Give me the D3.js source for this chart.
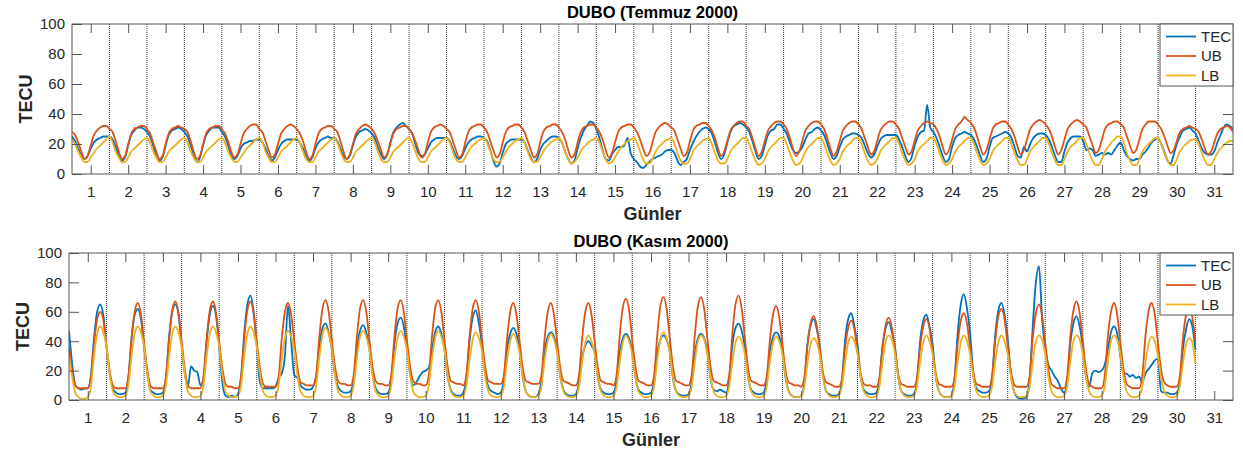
<!DOCTYPE html>
<html lang="tr">
<head>
<meta charset="utf-8">
<title>DUBO TEC</title>
<script src="https://cdn.jsdelivr.net/npm/d3@7"></script>
<style>
  body { margin: 0; background: #fff; }
  svg { font-family: "Liberation Sans", Arial, sans-serif; }
</style>
</head>
<body>
<svg id="chart" width="1243" height="456"></svg>
<script>
// values every 2 hours (00,02,...,22 UT), one row per day
var julTEC = [
  [25,22,17,12,10,12,17,21,23,24,25,25],
  [25,23,18,12,9,11,19,26,29,31,31,30],
  [28,25,19,13,9,11,19,26,29,30,31,30],
  [28,25,19,13,8,11,19,26,29,31,31,31],
  [28,25,19,13,10,12,17,20,21,22,22,23],
  [23,21,17,12,9,11,16,20,22,23,23,23],
  [23,21,17,12,9,11,17,21,23,24,25,24],
  [24,22,17,12,10,12,19,25,28,29,30,29],
  [27,24,18,13,10,13,21,28,31,33,34,32],
  [30,27,20,14,12,13,17,21,23,24,24,24],
  [24,22,17,12,10,12,17,21,23,24,25,25],
  [24,22,16,9,5,7,14,20,22,23,23,23],
  [23,21,16,11,8,10,16,20,22,24,25,25],
  [24,21,15,10,7,9,17,24,29,32,35,34],
  [30,24,16,10,9,13,16,18,18,19,24,14],
  [10,8,5,4,6,8,10,11,12,13,15,16],
  [16,14,9,6,8,10,16,21,25,28,30,31],
  [30,27,21,14,10,13,21,28,32,33,34,33],
  [31,28,22,15,10,12,19,26,29,30,33,33],
  [30,27,21,16,14,15,18,23,27,28,30,31],
  [29,26,20,14,10,12,18,23,25,26,27,27],
  [26,24,19,14,11,13,18,23,25,26,26,26],
  [26,23,18,12,8,11,19,25,28,29,46,31],
  [28,24,18,12,8,10,18,24,26,27,28,27],
  [26,23,18,12,8,10,18,24,25,26,27,28],
  [27,24,18,12,11,18,15,20,24,26,27,27],
  [26,23,18,12,8,8,15,21,24,25,25,25],
  [22,16,17,16,12,13,14,13,14,13,16,19],
  [21,16,12,10,9,10,10,13,15,18,21,23],
  [24,20,15,9,7,13,20,25,29,30,31,29],
  [27,22,17,14,13,13,15,21,26,31,33,32,30]
];
var julUB = [
  [28,26,21,15,10,12,19,26,29,31,32,32],
  [30,28,22,15,10,12,20,27,30,31,32,32],
  [30,27,21,15,10,12,20,27,30,31,32,31],
  [30,28,22,15,10,12,20,27,30,31,32,32],
  [30,27,22,15,11,13,20,27,30,32,33,33],
  [30,28,22,16,11,13,20,27,30,32,33,32],
  [30,27,22,15,10,12,20,27,30,31,32,32],
  [30,28,22,15,10,13,20,27,30,32,33,32],
  [30,27,22,16,11,13,20,27,30,31,32,32],
  [30,27,22,16,11,13,21,28,31,32,33,32],
  [30,28,22,16,11,13,21,28,31,32,33,33],
  [31,28,22,16,11,13,21,28,31,32,33,33],
  [31,28,22,16,11,13,21,28,31,32,33,33],
  [31,28,23,16,11,13,21,28,31,32,33,33],
  [31,28,23,16,11,14,21,28,31,32,33,33],
  [31,28,23,17,12,14,21,28,31,33,34,33],
  [31,29,23,17,12,14,22,29,32,33,34,34],
  [32,29,24,17,12,15,22,29,32,34,35,35],
  [32,30,24,17,12,15,22,29,32,34,35,35],
  [33,30,24,17,12,15,22,29,32,34,35,35],
  [33,30,24,17,12,15,22,29,32,34,35,35],
  [33,30,24,18,13,15,22,29,32,34,35,35],
  [33,30,24,18,13,15,22,29,32,34,35,34],
  [33,30,25,18,13,16,23,30,33,35,38,36],
  [34,31,25,18,13,16,23,30,33,34,35,35],
  [33,30,25,18,13,16,23,30,33,35,36,35],
  [33,30,25,18,13,16,23,30,33,35,36,35],
  [33,31,25,19,14,16,23,30,33,34,35,35],
  [33,31,25,19,14,16,23,30,33,35,35,35],
  [33,30,25,19,14,16,22,28,30,31,32,31],
  [30,28,23,17,13,15,21,27,30,31,32,31,28]
];
var julLB = [
  [23,20,15,11,8,8,11,14,17,19,21,23],
  [25,21,15,11,8,8,11,15,17,19,21,23],
  [24,21,15,11,8,8,11,15,17,19,21,23],
  [24,21,15,11,8,8,11,15,17,19,21,23],
  [24,21,15,11,8,8,11,14,17,19,21,23],
  [24,21,15,11,8,8,11,15,17,19,21,23],
  [24,21,15,10,8,8,11,15,17,19,21,23],
  [24,21,15,10,8,8,11,15,17,19,21,23],
  [24,21,15,10,8,8,11,15,17,19,21,23],
  [24,21,15,10,8,8,11,15,17,19,21,23],
  [24,21,15,10,8,8,11,15,18,20,22,23],
  [24,21,15,10,8,8,11,15,18,20,22,23],
  [24,21,15,10,8,8,11,15,18,20,22,23],
  [24,21,15,10,7,8,11,15,18,20,22,23],
  [24,21,15,10,7,8,11,15,18,20,22,23],
  [24,21,15,10,7,7,10,15,18,20,22,23],
  [24,20,14,9,7,7,10,15,18,20,22,23],
  [24,20,14,9,7,7,10,15,18,20,22,24],
  [24,20,14,9,6,7,10,15,18,20,22,24],
  [24,20,14,9,6,7,10,15,18,20,22,24],
  [24,20,14,9,6,7,10,15,18,20,22,24],
  [24,20,14,9,6,7,10,15,18,20,22,24],
  [24,20,14,9,6,7,10,15,18,20,22,24],
  [24,20,14,9,6,7,10,15,18,20,22,24],
  [24,20,14,9,6,7,10,15,18,20,22,24],
  [24,20,14,9,6,6,10,15,18,20,22,24],
  [24,20,14,9,6,6,10,15,18,20,22,24],
  [24,20,14,9,6,6,10,15,18,21,23,25],
  [25,21,14,9,6,6,10,15,18,20,22,24],
  [24,20,14,9,6,6,10,15,18,20,22,23],
  [23,20,14,9,6,6,10,14,17,19,21,22,22]
];

var novTEC = [
  [47,25,10,8,7,8,8,17,42,60,65,57],
  [36,18,8,5,4,4,5,16,42,58,62,55],
  [36,19,7,5,4,4,5,16,43,60,65,58],
  [37,18,9,23,20,19,10,15,40,58,64,57],
  [37,12,3,2,3,2,4,16,45,65,71,60],
  [38,12,8,8,8,8,9,15,18,30,64,40],
  [17,15,10,8,7,7,9,16,36,49,52,46],
  [34,17,9,6,5,5,6,14,35,47,51,46],
  [35,18,8,5,4,4,5,14,38,52,56,50],
  [35,18,10,12,16,19,20,22,34,46,50,45],
  [34,16,7,4,3,3,5,15,40,56,61,52],
  [37,18,9,6,5,4,5,14,35,45,49,45],
  [35,16,6,3,2,2,4,13,33,43,46,43],
  [34,16,7,4,3,3,4,12,29,37,40,37],
  [32,16,7,5,4,4,5,13,32,42,45,42],
  [33,16,7,5,4,4,5,13,32,41,44,41],
  [33,15,6,4,3,3,4,12,31,42,45,42],
  [33,15,7,6,7,6,5,14,37,49,52,47],
  [36,16,7,5,4,4,5,14,33,43,46,43],
  [34,15,6,3,2,2,3,12,38,51,55,48],
  [36,16,6,4,3,3,4,13,40,55,59,50],
  [38,16,7,5,4,4,5,14,37,49,53,46],
  [36,16,6,4,3,3,4,13,40,54,58,50],
  [38,16,6,3,2,2,3,14,45,65,72,62],
  [45,18,8,6,5,5,6,15,44,61,66,58],
  [42,18,6,2,1,1,2,14,50,80,91,55],
  [35,24,20,16,13,8,5,12,38,52,57,50],
  [36,16,9,18,20,19,20,24,34,46,50,45],
  [30,18,18,16,17,15,16,12,18,21,24,27],
  [28,6,5,5,4,4,5,12,35,48,55,50,34]
];
var novUB = [
  [36,20,10,8,8,8,8,15,38,55,60,54],
  [36,20,10,8,8,8,8,16,42,60,66,58],
  [39,21,10,8,8,8,8,16,42,61,67,59],
  [40,21,10,8,8,8,8,16,42,61,67,59],
  [40,22,11,9,9,8,8,16,42,61,67,59],
  [40,22,11,9,9,9,9,16,42,60,66,58],
  [40,22,12,11,10,10,10,17,43,62,68,60],
  [41,23,13,11,11,10,10,17,43,62,68,60],
  [41,23,13,11,11,10,10,17,43,62,68,60],
  [41,23,13,11,11,10,10,17,43,62,68,60],
  [41,23,13,12,11,11,10,17,43,62,68,60],
  [41,23,13,12,11,11,11,17,42,60,66,58],
  [40,22,13,12,11,11,11,17,42,60,66,58],
  [40,22,13,12,11,10,10,17,42,60,66,58],
  [40,22,13,12,11,11,10,17,44,63,69,61],
  [41,23,13,12,11,10,10,17,44,64,70,62],
  [42,23,13,12,11,10,10,17,44,64,70,62],
  [42,23,13,12,11,10,10,17,45,65,71,62],
  [42,22,13,12,11,10,10,16,41,58,64,56],
  [38,20,12,11,10,10,9,15,37,52,57,50],
  [34,18,12,11,10,9,9,14,35,49,54,48],
  [33,18,11,10,10,9,9,15,36,51,56,49],
  [34,18,11,10,9,9,9,15,36,50,55,49],
  [33,18,11,10,9,9,9,15,38,54,59,52],
  [35,19,11,10,9,9,9,16,40,57,62,55],
  [37,20,11,9,9,9,9,16,42,59,65,57],
  [39,21,11,9,8,8,8,16,43,61,67,59],
  [40,21,11,9,8,8,8,16,43,60,66,58],
  [39,21,11,9,8,8,8,16,43,60,66,58],
  [39,21,12,10,9,9,9,16,42,58,64,56,40]
];
var novLB = [
  [30,16,5,2,1,1,2,9,30,45,50,46],
  [36,18,6,3,2,2,3,10,30,45,50,46],
  [36,18,6,3,2,2,3,10,30,45,50,46],
  [36,18,6,3,2,2,3,10,30,45,50,46],
  [36,18,6,3,2,2,3,10,30,45,50,46],
  [36,18,6,3,2,2,3,10,28,42,47,43],
  [34,17,6,3,2,2,3,10,29,44,49,45],
  [35,17,6,3,2,2,3,10,28,43,47,43],
  [34,17,6,3,2,2,3,10,28,42,47,43],
  [34,17,6,3,2,2,3,10,28,42,47,43],
  [34,17,6,3,2,2,3,10,27,41,46,42],
  [33,16,6,3,2,2,3,9,27,40,45,41],
  [32,16,6,3,2,2,3,9,27,40,45,41],
  [32,16,6,3,2,2,3,9,26,39,44,40],
  [31,16,6,3,2,2,3,9,26,39,44,40],
  [31,16,6,3,2,2,3,9,27,41,46,42],
  [32,16,6,3,2,2,3,9,26,40,44,41],
  [31,16,6,3,2,2,3,9,26,39,43,40],
  [31,16,6,3,2,2,3,9,26,39,43,40],
  [31,16,6,3,2,2,3,9,25,38,42,39],
  [30,15,6,3,2,2,3,9,25,39,43,40],
  [31,16,6,3,2,2,3,9,26,40,44,41],
  [31,16,6,3,2,2,3,9,26,39,44,40],
  [31,16,6,3,2,2,3,9,26,39,44,40],
  [31,16,6,3,2,2,3,9,26,39,44,40],
  [31,16,6,3,2,2,3,9,26,40,44,41],
  [31,16,6,3,2,2,3,9,26,40,44,41],
  [31,16,6,3,2,2,3,9,26,40,44,41],
  [31,16,6,3,2,2,3,9,25,38,43,40],
  [30,15,6,3,2,2,3,9,25,38,42,39,25]
];

var dayLabels = d3.range(1, 32);
var yTicks = [0, 20, 40, 60, 80, 100];
var seriesNames = ["TEC", "UB", "LB"];
var seriesColors = ["#0072BD", "#D95319", "#EDB120"];
var samplesPerDay = 12;

var panels = [
  {title: "DUBO (Temmuz 2000)", series: [julTEC, julUB, julLB], l: 72, r: 1233, t: 24, b: 174},
  {title: "DUBO (Kasım 2000)", series: [novTEC, novUB, novLB], l: 69, r: 1233, t: 253, b: 400}
];

var svg = d3.select("#chart");
var axisCol = "#555", textCol = "#262626";

panels.forEach(function(p, pi) {
  var x = d3.scaleLinear().domain([0, 31]).range([p.l, p.r]);
  var y = d3.scaleLinear().domain([0, 100]).range([p.b, p.t]);
  var g = svg.append("g");

  g.append("clipPath").attr("id", "clip" + pi)
    .append("rect").attr("x", p.l).attr("y", p.t).attr("width", p.r - p.l).attr("height", p.b - p.t);

  // dotted day separators
  g.selectAll(".sep").data(d3.range(1, 31)).enter().append("line")
    .attr("x1", function(d) { return x(d); })
    .attr("x2", function(d) { return x(d); })
    .attr("y1", p.t).attr("y2", p.b)
    .attr("stroke", "#333").attr("stroke-width", 1)
    .attr("stroke-dasharray", "1,1");

  var line = d3.line()
    .x(function(d) { return x(d[0]); })
    .y(function(d) { return y(d[1]); })
    .curve(d3.curveMonotoneX);

  p.series.forEach(function(rows, k) {
    var flat = [].concat.apply([], rows);
    var pts = flat.map(function(v, i) { return [i / samplesPerDay, v]; });
    g.append("path").datum(pts)
      .attr("clip-path", "url(#clip" + pi + ")")
      .attr("fill", "none")
      .attr("stroke", seriesColors[k])
      .attr("stroke-width", 1.8)
      .attr("stroke-linejoin", "round")
      .attr("d", line);
  });

  var centers = dayLabels.map(function(d) { return d - 0.5; });

  var xb = g.append("g").attr("transform", "translate(0," + p.b + ")")
    .call(d3.axisBottom(x).tickValues(centers)
      .tickFormat(function(d, i) { return dayLabels[i]; })
      .tickSizeInner(-9).tickSizeOuter(0).tickPadding(12));
  var xt = g.append("g").attr("transform", "translate(0," + p.t + ")")
    .call(d3.axisTop(x).tickValues(centers).tickFormat("")
      .tickSizeInner(-9).tickSizeOuter(0));
  var yl = g.append("g").attr("transform", "translate(" + p.l + ",0)")
    .call(d3.axisLeft(y).tickValues(yTicks)
      .tickSizeInner(-10).tickSizeOuter(0).tickPadding(7));
  var yr = g.append("g").attr("transform", "translate(" + p.r + ",0)")
    .call(d3.axisRight(y).tickValues(yTicks).tickFormat("")
      .tickSizeInner(-10).tickSizeOuter(0));

  [xb, xt, yl, yr].forEach(function(a) {
    a.select(".domain").remove();
    a.selectAll(".tick line").attr("stroke", axisCol);
    a.selectAll("text").attr("fill", textCol).style("font-size", "15px");
  });

  g.append("rect")
    .attr("x", p.l).attr("y", p.t)
    .attr("width", p.r - p.l).attr("height", p.b - p.t)
    .attr("fill", "none").attr("stroke", axisCol).attr("stroke-width", 1);

  g.append("text")
    .attr("x", (p.l + p.r) / 2).attr("y", p.t - 6)
    .attr("text-anchor", "middle")
    .style("font-size", "16.5px").style("font-weight", "bold")
    .attr("fill", "#000")
    .text(p.title);

  g.append("text")
    .attr("x", (p.l + p.r) / 2).attr("y", p.b + 46)
    .attr("text-anchor", "middle")
    .style("font-size", "18px").style("font-weight", "bold")
    .attr("fill", textCol)
    .text("Günler");

  g.append("text")
    .attr("transform", "translate(" + (p.l - 40) + "," + ((p.t + p.b) / 2) + ") rotate(-90)")
    .attr("text-anchor", "middle")
    .style("font-size", "18px").style("font-weight", "bold")
    .attr("fill", textCol)
    .text("TECU");

  // legend
  var lx = p.r - 73, ly = p.t;
  var leg = g.append("g");
  leg.append("rect")
    .attr("x", lx).attr("y", ly).attr("width", 73).attr("height", 62)
    .attr("fill", "#fff").attr("stroke", axisCol).attr("stroke-width", 1);
  seriesNames.forEach(function(name, k) {
    var yy = ly + 12.5 + k * 19.5;
    leg.append("line")
      .attr("x1", lx + 6).attr("x2", lx + 36)
      .attr("y1", yy).attr("y2", yy)
      .attr("stroke", seriesColors[k]).attr("stroke-width", 1.8);
    leg.append("text")
      .attr("x", lx + 41).attr("y", yy + 5)
      .style("font-size", "15px").attr("fill", textCol)
      .text(name);
  });
});
</script>
</body>
</html>
